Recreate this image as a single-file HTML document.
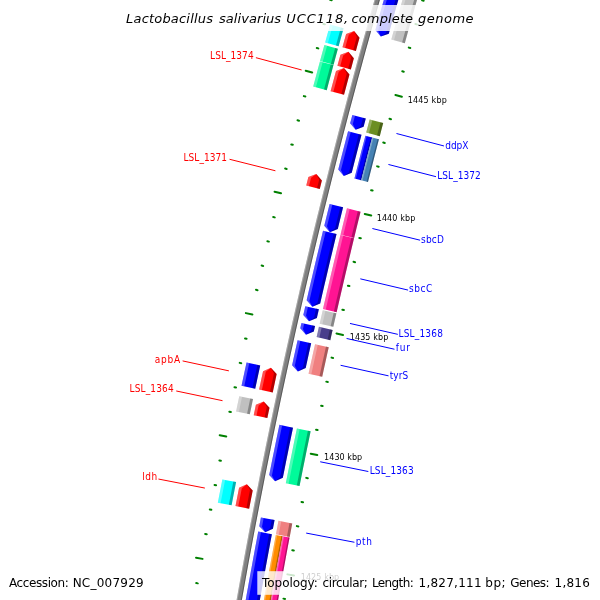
<!DOCTYPE html>
<html><head><meta charset="utf-8"><title>Lactobacillus salivarius UCC118, complete genome</title>
<style>
html,body{margin:0;padding:0;background:#fff;}
svg{display:block;font-family:"DejaVu Sans","Liberation Sans",sans-serif;}
.ti{font-size:13px;font-style:italic;}
.lg{font-size:12px;}
.tk{font-size:8px;}
.lb{font-family:"DejaVu Sans Condensed","DejaVu Sans","Liberation Sans",sans-serif;font-size:10px;}</style></head><body>
<svg width="600" height="600" viewBox="0 0 600 600">
<rect width="600" height="600" fill="#fff"/>
<polygon points="234.88,640.25 236.52,630.63 238.18,621.01 239.85,611.4 241.54,601.78 243.25,592.18 244.97,582.57 246.7,572.97 248.45,563.37 250.22,553.77 252,544.17 253.8,534.58 255.61,524.99 257.44,515.41 259.29,505.83 261.15,496.25 263.02,486.67 264.91,477.1 266.82,467.53 268.74,457.96 270.68,448.39 272.63,438.83 274.6,429.27 276.58,419.72 278.58,410.17 280.6,400.62 282.63,391.07 284.67,381.53 286.73,371.99 288.81,362.46 290.9,352.93 293.01,343.4 295.13,333.87 297.27,324.35 299.42,314.83 301.59,305.32 303.77,295.81 305.97,286.3 308.19,276.8 310.42,267.3 312.66,257.8 314.92,248.31 317.2,238.82 319.49,229.33 321.8,219.85 324.12,210.37 326.46,200.9 328.81,191.42 331.18,181.96 333.56,172.49 335.96,163.04 338.37,153.58 340.8,144.13 343.25,134.68 345.71,125.24 348.18,115.8 350.67,106.36 353.18,96.93 355.7,87.5 358.23,78.08 360.79,68.66 363.35,59.25 365.93,49.84 368.53,40.43 371.14,31.03 373.77,21.63 376.41,12.23 379.07,2.84 381.74,-6.54 384.43,-15.92 387.13,-25.3 389.85,-34.67 384.86,-36.12 382.14,-26.74 379.43,-17.36 376.74,-7.97 374.07,1.42 371.41,10.82 368.76,20.22 366.13,29.63 363.52,39.04 360.92,48.46 358.34,57.87 355.77,67.3 353.21,76.73 350.68,86.16 348.15,95.59 345.65,105.03 343.15,114.48 340.68,123.92 338.21,133.37 335.77,142.83 333.34,152.29 330.92,161.75 328.52,171.22 326.13,180.69 323.76,190.17 321.41,199.65 319.07,209.13 316.75,218.62 314.44,228.11 312.14,237.6 309.87,247.1 307.6,256.6 305.35,266.1 303.12,275.61 300.91,285.12 298.71,294.64 296.52,304.16 294.35,313.68 292.19,323.21 290.05,332.74 287.93,342.27 285.82,351.81 283.73,361.35 281.65,370.89 279.59,380.44 277.54,389.99 275.51,399.54 273.49,409.1 271.49,418.66 269.51,428.22 267.54,437.79 265.58,447.36 263.64,456.93 261.72,466.51 259.81,476.08 257.92,485.67 256.04,495.25 254.18,504.84 252.34,514.43 250.5,524.02 248.69,533.62 246.89,543.22 245.11,552.82 243.34,562.43 241.59,572.04 239.85,581.65 238.13,591.26 236.42,600.88 234.73,610.5 233.05,620.12 231.39,629.75 229.75,639.37" fill="#808080"/>
<polygon points="230.78,639.55 232.42,629.92 234.08,620.3 235.75,610.68 237.44,601.06 239.15,591.45 240.87,581.83 242.61,572.22 244.36,562.62 246.13,553.01 247.91,543.41 249.71,533.81 251.53,524.22 253.36,514.63 255.2,505.04 257.06,495.45 258.94,485.87 260.83,476.29 262.74,466.71 264.66,457.14 266.6,447.56 268.56,438 270.52,428.43 272.51,418.87 274.51,409.31 276.53,399.76 278.56,390.21 280.6,380.66 282.67,371.11 284.74,361.57 286.84,352.03 288.95,342.5 291.07,332.96 293.21,323.44 295.36,313.91 297.53,304.39 299.72,294.87 301.92,285.36 304.14,275.85 306.37,266.34 308.61,256.84 310.88,247.34 313.15,237.84 315.45,228.35 317.76,218.86 320.08,209.38 322.42,199.9 324.77,190.42 327.14,180.95 329.53,171.48 331.93,162.01 334.34,152.55 336.77,143.09 339.22,133.64 341.68,124.19 344.16,114.74 346.65,105.3 349.16,95.86 351.68,86.43 354.22,77 356.77,67.57 359.34,58.15 361.92,48.73 364.52,39.32 367.14,29.91 369.76,20.5 372.41,11.1 375.07,1.71 377.74,-7.68 380.43,-17.07 383.14,-26.45 385.86,-35.83 384.86,-36.12 382.14,-26.74 379.43,-17.36 376.74,-7.97 374.07,1.42 371.41,10.82 368.76,20.22 366.13,29.63 363.52,39.04 360.92,48.46 358.34,57.87 355.77,67.3 353.21,76.73 350.68,86.16 348.15,95.59 345.65,105.03 343.15,114.48 340.68,123.92 338.21,133.37 335.77,142.83 333.34,152.29 330.92,161.75 328.52,171.22 326.13,180.69 323.76,190.17 321.41,199.65 319.07,209.13 316.75,218.62 314.44,228.11 312.14,237.6 309.87,247.1 307.6,256.6 305.35,266.1 303.12,275.61 300.91,285.12 298.71,294.64 296.52,304.16 294.35,313.68 292.19,323.21 290.05,332.74 287.93,342.27 285.82,351.81 283.73,361.35 281.65,370.89 279.59,380.44 277.54,389.99 275.51,399.54 273.49,409.1 271.49,418.66 269.51,428.22 267.54,437.79 265.58,447.36 263.64,456.93 261.72,466.51 259.81,476.08 257.92,485.67 256.04,495.25 254.18,504.84 252.34,514.43 250.5,524.02 248.69,533.62 246.89,543.22 245.11,552.82 243.34,562.43 241.59,572.04 239.85,581.65 238.13,591.26 236.42,600.88 234.73,610.5 233.05,620.12 231.39,629.75 229.75,639.37" fill="rgba(255,255,255,0.3)"/>
<polygon points="234.88,640.25 236.52,630.63 238.18,621.01 239.85,611.4 241.54,601.78 243.25,592.18 244.97,582.57 246.7,572.97 248.45,563.37 250.22,553.77 252,544.17 253.8,534.58 255.61,524.99 257.44,515.41 259.29,505.83 261.15,496.25 263.02,486.67 264.91,477.1 266.82,467.53 268.74,457.96 270.68,448.39 272.63,438.83 274.6,429.27 276.58,419.72 278.58,410.17 280.6,400.62 282.63,391.07 284.67,381.53 286.73,371.99 288.81,362.46 290.9,352.93 293.01,343.4 295.13,333.87 297.27,324.35 299.42,314.83 301.59,305.32 303.77,295.81 305.97,286.3 308.19,276.8 310.42,267.3 312.66,257.8 314.92,248.31 317.2,238.82 319.49,229.33 321.8,219.85 324.12,210.37 326.46,200.9 328.81,191.42 331.18,181.96 333.56,172.49 335.96,163.04 338.37,153.58 340.8,144.13 343.25,134.68 345.71,125.24 348.18,115.8 350.67,106.36 353.18,96.93 355.7,87.5 358.23,78.08 360.79,68.66 363.35,59.25 365.93,49.84 368.53,40.43 371.14,31.03 373.77,21.63 376.41,12.23 379.07,2.84 381.74,-6.54 384.43,-15.92 387.13,-25.3 389.85,-34.67 388.85,-34.96 386.14,-25.59 383.43,-16.21 380.74,-6.83 378.07,2.56 375.41,11.95 372.77,21.35 370.14,30.75 367.53,40.15 364.93,49.56 362.35,58.97 359.78,68.39 357.23,77.81 354.69,87.23 352.17,96.66 349.67,106.1 347.18,115.53 344.7,124.97 342.24,134.42 339.8,143.87 337.37,153.32 334.95,162.78 332.55,172.24 330.17,181.7 327.8,191.17 325.45,200.65 323.11,210.12 320.79,219.6 318.48,229.09 316.19,238.57 313.91,248.06 311.65,257.56 309.4,267.06 307.17,276.56 304.96,286.06 302.76,295.57 300.57,305.09 298.41,314.6 296.25,324.12 294.11,333.65 291.99,343.17 289.88,352.7 287.79,362.24 285.72,371.77 283.65,381.31 281.61,390.86 279.58,400.4 277.56,409.95 275.56,419.51 273.58,429.06 271.61,438.62 269.66,448.19 267.72,457.75 265.8,467.32 263.89,476.89 262,486.47 260.13,496.05 258.27,505.63 256.42,515.21 254.59,524.8 252.78,534.39 250.98,543.98 249.2,553.58 247.43,563.18 245.68,572.78 243.94,582.39 242.22,591.99 240.52,601.6 238.83,611.22 237.15,620.83 235.49,630.45 233.85,640.07" fill="rgba(0,0,0,0.3)"/>
<polygon points="271.89,534.15 270.23,543.02 268.57,551.88 266.93,560.76 265.3,569.63 263.69,578.51 262.08,587.38 260.5,596.27 258.92,605.15 257.36,614.03 249.66,617.7 243.67,611.64 245.23,602.73 246.81,593.83 248.4,584.93 250.01,576.03 251.63,567.13 253.26,558.24 254.9,549.35 256.56,540.46 258.24,531.57" fill="#0000ff"/>
<polygon points="260.97,532.09 259.3,540.97 257.64,549.85 255.99,558.74 254.36,567.63 252.74,576.52 251.14,585.42 249.55,594.32 247.97,603.22 246.41,612.12 249.66,617.7 243.67,611.64 245.23,602.73 246.81,593.83 248.4,584.93 250.01,576.03 251.63,567.13 253.26,558.24 254.9,549.35 256.56,540.46 258.24,531.57" fill="rgba(255,255,255,0.3)"/>
<polygon points="271.89,534.15 270.23,543.02 268.57,551.88 266.93,560.76 265.3,569.63 263.69,578.51 262.08,587.38 260.5,596.27 258.92,605.15 257.36,614.03 249.66,617.7 254.62,613.56 256.18,604.67 257.76,595.78 259.35,586.89 260.95,578.01 262.57,569.13 264.2,560.25 265.84,551.38 267.49,542.5 269.16,533.63" fill="rgba(0,0,0,0.3)"/>
<polygon points="267.35,620.78 268.99,611.37 270.65,601.97 272.33,592.56 274.02,583.16 275.73,573.76 277.45,564.36 279.19,554.97 280.94,545.58 282.7,536.19 275.82,534.89 274.06,544.29 272.3,553.69 270.57,563.1 268.84,572.5 267.13,581.91 265.44,591.33 263.76,600.74 262.1,610.16 260.45,619.58" fill="#ff8c00"/>
<polygon points="261.83,619.82 263.48,610.4 265.14,600.99 266.82,591.57 268.51,582.16 270.22,572.76 271.94,563.35 273.68,553.95 275.43,544.55 277.2,535.15 275.82,534.89 274.06,544.29 272.3,553.69 270.57,563.1 268.84,572.5 267.13,581.91 265.44,591.33 263.76,600.74 262.1,610.16 260.45,619.58" fill="rgba(255,255,255,0.3)"/>
<polygon points="267.35,620.78 268.99,611.37 270.65,601.97 272.33,592.56 274.02,583.16 275.73,573.76 277.45,564.36 279.19,554.97 280.94,545.58 282.7,536.19 281.33,535.93 279.56,545.32 277.81,554.71 276.07,564.11 274.35,573.51 272.64,582.91 270.95,592.31 269.28,601.72 267.61,611.13 265.97,620.54" fill="rgba(0,0,0,0.3)"/>
<polygon points="274.24,621.98 275.89,612.58 277.55,603.19 279.22,593.8 280.91,584.4 282.61,575.02 284.33,565.63 286.07,556.25 287.82,546.87 289.58,537.49 282.7,536.19 280.94,545.58 279.19,554.97 277.45,564.36 275.73,573.76 274.02,583.16 272.33,592.56 270.65,601.97 268.99,611.37 267.35,620.78" fill="#ff1493"/>
<polygon points="268.73,621.02 270.37,611.62 272.03,602.21 273.71,592.81 275.4,583.41 277.11,574.01 278.83,564.62 280.56,555.23 282.31,545.84 284.08,536.45 282.7,536.19 280.94,545.58 279.19,554.97 277.45,564.36 275.73,573.76 274.02,583.16 272.33,592.56 270.65,601.97 268.99,611.37 267.35,620.78" fill="rgba(255,255,255,0.3)"/>
<polygon points="274.24,621.98 275.89,612.58 277.55,603.19 279.22,593.8 280.91,584.4 282.61,575.02 284.33,565.63 286.07,556.25 287.82,546.87 289.58,537.49 288.21,537.23 286.44,546.61 284.69,555.99 282.96,565.38 281.24,574.76 279.53,584.16 277.84,593.55 276.17,602.94 274.51,612.34 272.86,621.74" fill="rgba(0,0,0,0.3)"/>
<polygon points="274.57,520.07 272.92,528.72 265.17,532.28 259.27,526.13 260.92,517.45" fill="#0000ff"/>
<polygon points="263.65,517.98 262,526.64 265.17,532.28 259.27,526.13 260.92,517.45" fill="rgba(255,255,255,0.3)"/>
<polygon points="274.57,520.07 272.92,528.72 265.17,532.28 270.19,528.2 271.84,519.54" fill="rgba(0,0,0,0.3)"/>
<polygon points="289.69,536.91 290.97,530.18 292.25,523.45 278.5,520.82 277.21,527.56 275.93,534.31" fill="#f08080"/>
<polygon points="278.69,534.83 279.96,528.09 281.25,521.35 278.5,520.82 277.21,527.56 275.93,534.31" fill="rgba(255,255,255,0.3)"/>
<polygon points="289.69,536.91 290.97,530.18 292.25,523.45 289.5,522.92 288.22,529.66 286.94,536.39" fill="rgba(0,0,0,0.3)"/>
<polygon points="293.01,427.66 291.28,436 289.57,444.35 287.87,452.69 286.18,461.04 284.5,469.39 282.83,477.74 275.05,481.23 269.2,475.03 270.87,466.66 272.55,458.29 274.24,449.92 275.95,441.56 277.67,433.2 279.4,424.84" fill="#0000ff"/>
<polygon points="282.12,425.4 280.39,433.76 278.67,442.12 276.97,450.48 275.28,458.84 273.59,467.2 271.92,475.57 275.05,481.23 269.2,475.03 270.87,466.66 272.55,458.29 274.24,449.92 275.95,441.56 277.67,433.2 279.4,424.84" fill="rgba(255,255,255,0.3)"/>
<polygon points="293.01,427.66 291.28,436 289.57,444.35 287.87,452.69 286.18,461.04 284.5,469.39 282.83,477.74 275.05,481.23 280.1,477.2 281.77,468.84 283.45,460.49 285.14,452.14 286.84,443.79 288.56,435.44 290.29,427.1" fill="rgba(0,0,0,0.3)"/>
<polygon points="299.53,486.07 301.34,476.94 303.17,467.81 305.02,458.69 306.87,449.56 308.75,440.44 310.63,431.33 296.92,428.48 295.03,437.62 293.16,446.76 291.3,455.9 289.45,465.05 287.61,474.2 285.79,483.35" fill="#00fa9a"/>
<polygon points="288.54,483.9 290.36,474.75 292.19,465.6 294.04,456.46 295.9,447.32 297.78,438.18 299.67,429.05 296.92,428.48 295.03,437.62 293.16,446.76 291.3,455.9 289.45,465.05 287.61,474.2 285.79,483.35" fill="rgba(255,255,255,0.3)"/>
<polygon points="299.53,486.07 301.34,476.94 303.17,467.81 305.02,458.69 306.87,449.56 308.75,440.44 310.63,431.33 307.89,430.76 306,439.88 304.13,449 302.27,458.13 300.43,467.26 298.6,476.39 296.78,485.53" fill="rgba(0,0,0,0.3)"/>
<polygon points="311.17,343.27 309.33,351.55 307.5,359.83 305.69,368.11 297.85,371.45 292.11,365.15 293.93,356.84 295.76,348.54 297.6,340.25" fill="#0000ff"/>
<polygon points="300.31,340.85 298.47,349.14 296.64,357.44 294.83,365.74 297.85,371.45 292.11,365.15 293.93,356.84 295.76,348.54 297.6,340.25" fill="rgba(255,255,255,0.3)"/>
<polygon points="311.17,343.27 309.33,351.55 307.5,359.83 305.69,368.11 297.85,371.45 302.97,367.52 304.79,359.23 306.62,350.95 308.45,342.66" fill="rgba(0,0,0,0.3)"/>
<polygon points="322.23,376.75 323.84,369.36 325.46,361.96 327.1,354.57 328.74,347.18 315.07,344.14 313.43,351.55 311.79,358.95 310.17,366.37 308.55,373.78" fill="#f08080"/>
<polygon points="311.29,374.37 312.9,366.96 314.53,359.56 316.16,352.15 317.8,344.75 315.07,344.14 313.43,351.55 311.79,358.95 310.17,366.37 308.55,373.78" fill="rgba(255,255,255,0.3)"/>
<polygon points="322.23,376.75 323.84,369.36 325.46,361.96 327.1,354.57 328.74,347.18 326,346.57 324.36,353.97 322.73,361.36 321.11,368.76 319.49,376.16" fill="rgba(0,0,0,0.3)"/>
<polygon points="315.04,325.98 313.82,331.42 305.96,334.72 300.26,328.37 301.48,322.92" fill="#0000ff"/>
<polygon points="304.2,323.53 302.97,328.98 305.96,334.72 300.26,328.37 301.48,322.92" fill="rgba(255,255,255,0.3)"/>
<polygon points="315.04,325.98 313.82,331.42 305.96,334.72 311.11,330.81 312.33,325.37" fill="rgba(0,0,0,0.3)"/>
<polygon points="330.3,340.17 331.45,335.06 332.6,329.95 318.95,326.86 317.79,331.99 316.64,337.11" fill="#483d8b"/>
<polygon points="319.37,337.72 320.52,332.6 321.68,327.48 318.95,326.86 317.79,331.99 316.64,337.11" fill="rgba(255,255,255,0.3)"/>
<polygon points="330.3,340.17 331.45,335.06 332.6,329.95 329.87,329.33 328.72,334.44 327.57,339.56" fill="rgba(0,0,0,0.3)"/>
<polygon points="318.85,309.24 316.85,317.99 308.98,321.27 303.3,314.91 305.3,306.14" fill="#0000ff"/>
<polygon points="308.01,306.76 306.01,315.53 308.98,321.27 303.3,314.91 305.3,306.14" fill="rgba(255,255,255,0.3)"/>
<polygon points="318.85,309.24 316.85,317.99 308.98,321.27 314.14,317.38 316.14,308.62" fill="rgba(0,0,0,0.3)"/>
<polygon points="333.32,326.78 334.85,320.01 336.4,313.25 322.75,310.13 321.2,316.91 319.66,323.69" fill="#c0c0c0"/>
<polygon points="322.39,324.31 323.93,317.53 325.48,310.75 322.75,310.13 321.2,316.91 319.66,323.69" fill="rgba(255,255,255,0.3)"/>
<polygon points="333.32,326.78 334.85,320.01 336.4,313.25 333.67,312.63 332.12,319.39 330.59,326.16" fill="rgba(0,0,0,0.3)"/>
<polygon points="336.54,234.12 334.45,242.77 332.38,251.42 330.31,260.08 328.26,268.74 326.22,277.41 324.2,286.07 322.18,294.74 320.18,303.42 312.31,306.68 306.64,300.3 308.64,291.61 310.66,282.92 312.69,274.23 314.73,265.55 316.79,256.87 318.86,248.19 320.94,239.52 323.03,230.84" fill="#0000ff"/>
<polygon points="325.74,231.5 323.64,240.17 321.56,248.84 319.49,257.51 317.44,266.19 315.4,274.87 313.37,283.55 311.35,292.24 309.35,300.93 312.31,306.68 306.64,300.3 308.64,291.61 310.66,282.92 312.69,274.23 314.73,265.55 316.79,256.87 318.86,248.19 320.94,239.52 323.03,230.84" fill="rgba(255,255,255,0.3)"/>
<polygon points="336.54,234.12 334.45,242.77 332.38,251.42 330.31,260.08 328.26,268.74 326.22,277.41 324.2,286.07 322.18,294.74 320.18,303.42 312.31,306.68 317.47,302.8 319.48,294.12 321.49,285.44 323.52,276.77 325.55,268.11 327.61,259.44 329.67,250.78 331.75,242.12 333.84,233.46" fill="rgba(0,0,0,0.3)"/>
<polygon points="336.63,312.24 338.75,303 340.89,293.75 343.05,284.51 345.21,275.27 347.4,266.04 349.6,256.81 351.81,247.58 354.04,238.36 340.43,235.06 338.2,244.31 335.98,253.55 333.78,262.81 331.59,272.06 329.41,281.32 327.25,290.58 325.11,299.85 322.98,309.12" fill="#ff1493"/>
<polygon points="325.71,309.75 327.84,300.48 329.98,291.22 332.14,281.96 334.31,272.7 336.5,263.45 338.7,254.21 340.92,244.96 343.15,235.72 340.43,235.06 338.2,244.31 335.98,253.55 333.78,262.81 331.59,272.06 329.41,281.32 327.25,290.58 325.11,299.85 322.98,309.12" fill="rgba(255,255,255,0.3)"/>
<polygon points="336.63,312.24 338.75,303 340.89,293.75 343.05,284.51 345.21,275.27 347.4,266.04 349.6,256.81 351.81,247.58 354.04,238.36 351.31,237.7 349.09,246.93 346.87,256.16 344.67,265.39 342.49,274.63 340.32,283.87 338.16,293.12 336.02,302.37 333.9,311.62" fill="rgba(0,0,0,0.3)"/>
<polygon points="343.09,207.35 341.32,214.56 339.55,221.77 337.79,228.99 329.87,232.15 324.28,225.7 326.05,218.47 327.82,211.24 329.6,204.01" fill="#0000ff"/>
<polygon points="332.3,204.68 330.52,211.9 328.75,219.13 326.98,226.36 329.87,232.15 324.28,225.7 326.05,218.47 327.82,211.24 329.6,204.01" fill="rgba(255,255,255,0.3)"/>
<polygon points="343.09,207.35 341.32,214.56 339.55,221.77 337.79,228.99 329.87,232.15 335.09,228.33 336.85,221.11 338.62,213.9 340.39,206.68" fill="rgba(0,0,0,0.3)"/>
<polygon points="354.12,238.02 356.25,229.23 358.4,220.45 360.57,211.67 346.98,208.31 344.81,217.11 342.65,225.92 340.51,234.72" fill="#ff1493"/>
<polygon points="343.23,235.38 345.37,226.58 347.53,217.78 349.69,208.98 346.98,208.31 344.81,217.11 342.65,225.92 340.51,234.72" fill="rgba(255,255,255,0.3)"/>
<polygon points="354.12,238.02 356.25,229.23 358.4,220.45 360.57,211.67 357.85,211 355.69,219.78 353.53,228.57 351.4,237.36" fill="rgba(0,0,0,0.3)"/>
<polygon points="361.52,134.75 359.05,144.26 356.6,153.77 354.16,163.29 351.74,172.81 343.79,175.89 338.26,169.4 340.69,159.85 343.13,150.31 345.59,140.77 348.07,131.24" fill="#0000ff"/>
<polygon points="350.76,131.94 348.28,141.47 345.83,151 343.39,160.54 340.96,170.08 343.79,175.89 338.26,169.4 340.69,159.85 343.13,150.31 345.59,140.77 348.07,131.24" fill="rgba(255,255,255,0.3)"/>
<polygon points="361.52,134.75 359.05,144.26 356.6,153.77 354.16,163.29 351.74,172.81 343.79,175.89 349.04,172.13 351.47,162.6 353.9,153.08 356.36,143.56 358.83,134.04" fill="rgba(0,0,0,0.3)"/>
<polygon points="361.19,180.29 363.36,171.73 365.54,163.17 367.74,154.62 369.94,146.07 372.16,137.52 365.39,135.75 363.17,144.31 360.96,152.87 358.76,161.44 356.58,170 354.41,178.58" fill="#0000ff"/>
<polygon points="355.76,178.92 357.93,170.35 360.12,161.78 362.31,153.22 364.52,144.66 366.74,136.11 365.39,135.75 363.17,144.31 360.96,152.87 358.76,161.44 356.58,170 354.41,178.58" fill="rgba(255,255,255,0.3)"/>
<polygon points="361.19,180.29 363.36,171.73 365.54,163.17 367.74,154.62 369.94,146.07 372.16,137.52 370.81,137.16 368.59,145.71 366.38,154.27 364.19,162.82 362.01,171.38 359.84,179.95" fill="rgba(0,0,0,0.3)"/>
<polygon points="367.98,182 370.15,173.45 372.33,164.91 374.52,156.36 376.72,147.82 378.94,139.28 372.16,137.52 369.94,146.07 367.74,154.62 365.54,163.17 363.36,171.73 361.19,180.29" fill="#4682b4"/>
<polygon points="362.55,180.63 364.72,172.07 366.9,163.52 369.09,154.97 371.3,146.42 373.52,137.87 372.16,137.52 369.94,146.07 367.74,154.62 365.54,163.17 363.36,171.73 361.19,180.29" fill="rgba(255,255,255,0.3)"/>
<polygon points="367.98,182 370.15,173.45 372.33,164.91 374.52,156.36 376.72,147.82 378.94,139.28 377.58,138.93 375.37,147.47 373.16,156.01 370.97,164.56 368.79,173.11 366.62,181.66" fill="rgba(0,0,0,0.3)"/>
<polygon points="365.79,118.44 363.59,126.82 355.62,129.84 350.14,123.3 352.35,114.9" fill="#0000ff"/>
<polygon points="355.04,115.61 352.83,124 355.62,129.84 350.14,123.3 352.35,114.9" fill="rgba(255,255,255,0.3)"/>
<polygon points="365.79,118.44 363.59,126.82 355.62,129.84 360.9,126.12 363.1,117.74" fill="rgba(0,0,0,0.3)"/>
<polygon points="379.76,136.14 381.47,129.58 383.19,123.03 369.66,119.46 367.93,126.03 366.21,132.6" fill="#6b8e23"/>
<polygon points="368.92,133.31 370.64,126.74 372.36,120.18 369.66,119.46 367.93,126.03 366.21,132.6" fill="rgba(255,255,255,0.3)"/>
<polygon points="379.76,136.14 381.47,129.58 383.19,123.03 380.49,122.32 378.76,128.87 377.05,135.43" fill="rgba(0,0,0,0.3)"/>
<polygon points="403.41,-17.88 400.95,-9.3 398.49,-0.73 396.05,7.86 393.62,16.44 391.2,25.03 388.79,33.63 380.77,36.52 375.4,29.89 377.82,21.28 380.24,12.67 382.67,4.06 385.12,-4.54 387.59,-13.14 390.06,-21.73" fill="#0000ff"/>
<polygon points="392.73,-20.96 390.26,-12.37 387.8,-3.78 385.35,4.82 382.91,13.42 380.49,22.03 378.08,30.64 380.77,36.52 375.4,29.89 377.82,21.28 380.24,12.67 382.67,4.06 385.12,-4.54 387.59,-13.14 390.06,-21.73" fill="rgba(255,255,255,0.3)"/>
<polygon points="403.41,-17.88 400.95,-9.3 398.49,-0.73 396.05,7.86 393.62,16.44 391.2,25.03 388.79,33.63 380.77,36.52 386.12,32.88 388.52,24.28 390.94,15.69 393.37,7.1 395.82,-1.49 398.27,-10.07 400.74,-18.65" fill="rgba(0,0,0,0.3)"/>
<polygon points="404.81,43.2 407.42,33.84 410.05,24.49 412.69,15.14 415.35,5.79 418.02,-3.55 420.71,-12.89 407.26,-16.77 404.56,-7.41 401.88,1.95 399.22,11.32 396.57,20.69 393.94,30.07 391.32,39.45" fill="#c0c0c0"/>
<polygon points="394.02,40.2 396.64,30.82 399.27,21.45 401.92,12.08 404.58,2.72 407.25,-6.64 409.95,-15.99 407.26,-16.77 404.56,-7.41 401.88,1.95 399.22,11.32 396.57,20.69 393.94,30.07 391.32,39.45" fill="rgba(255,255,255,0.3)"/>
<polygon points="404.81,43.2 407.42,33.84 410.05,24.49 412.69,15.14 415.35,5.79 418.02,-3.55 420.71,-12.89 418.02,-13.66 415.33,-4.32 412.66,5.03 410,14.38 407.35,23.73 404.73,33.09 402.11,42.45" fill="rgba(0,0,0,0.3)"/>
<polygon points="355.89,50.92 357.71,44.31 359.53,37.71 354.16,31.07 346.13,34 344.31,40.62 342.48,47.24" fill="#ff0000"/>
<polygon points="345.16,47.97 346.99,41.36 348.81,34.74 354.16,31.07 346.13,34 344.31,40.62 342.48,47.24" fill="rgba(255,255,255,0.3)"/>
<polygon points="355.89,50.92 357.71,44.31 359.53,37.71 354.16,31.07 356.85,36.96 355.03,43.57 353.21,50.18" fill="rgba(0,0,0,0.3)"/>
<polygon points="338.63,46.18 341.11,37.16 343.61,28.14 330.12,24.39 327.62,33.43 325.13,42.47" fill="#00ffff"/>
<polygon points="327.83,43.21 330.31,34.18 332.82,25.14 330.12,24.39 327.62,33.43 325.13,42.47" fill="rgba(255,255,255,0.3)"/>
<polygon points="338.63,46.18 341.11,37.16 343.61,28.14 340.91,27.39 338.41,36.41 335.93,45.44" fill="rgba(0,0,0,0.3)"/>
<polygon points="350.83,69.45 352.34,63.89 353.86,58.33 348.46,51.71 340.45,54.67 338.93,60.24 337.42,65.81" fill="#ff0000"/>
<polygon points="340.1,66.54 341.61,60.97 343.13,55.4 348.46,51.71 340.45,54.67 338.93,60.24 337.42,65.81" fill="rgba(255,255,255,0.3)"/>
<polygon points="350.83,69.45 352.34,63.89 353.86,58.33 348.46,51.71 351.18,57.6 349.66,63.16 348.15,68.72" fill="rgba(0,0,0,0.3)"/>
<polygon points="333.56,64.76 335.72,56.79 337.9,48.82 324.4,45.12 322.22,53.11 320.04,61.1" fill="#00fa9a"/>
<polygon points="322.75,61.83 324.92,53.84 327.1,45.86 324.4,45.12 322.22,53.11 320.04,61.1" fill="rgba(255,255,255,0.3)"/>
<polygon points="333.56,64.76 335.72,56.79 337.9,48.82 335.2,48.08 333.02,56.05 330.85,64.03" fill="rgba(0,0,0,0.3)"/>
<polygon points="344.03,94.75 345.83,88.02 347.63,81.29 349.45,74.57 344.03,67.97 336.03,70.94 334.21,77.68 332.4,84.42 330.6,91.17" fill="#ff0000"/>
<polygon points="333.29,91.88 335.09,85.14 336.9,78.4 338.71,71.67 344.03,67.97 336.03,70.94 334.21,77.68 332.4,84.42 330.6,91.17" fill="rgba(255,255,255,0.3)"/>
<polygon points="344.03,94.75 345.83,88.02 347.63,81.29 349.45,74.57 344.03,67.97 346.76,73.84 344.95,80.57 343.14,87.3 341.35,94.03" fill="rgba(0,0,0,0.3)"/>
<polygon points="326.74,90.14 328.97,81.79 331.21,73.44 333.46,65.1 319.95,61.44 317.69,69.8 315.44,78.16 313.21,86.53" fill="#00fa9a"/>
<polygon points="315.91,87.25 318.15,78.89 320.4,70.53 322.65,62.17 319.95,61.44 317.69,69.8 315.44,78.16 313.21,86.53" fill="rgba(255,255,255,0.3)"/>
<polygon points="326.74,90.14 328.97,81.79 331.21,73.44 333.46,65.1 330.76,64.37 328.51,72.71 326.26,81.06 324.03,89.42" fill="rgba(0,0,0,0.3)"/>
<polygon points="319.74,188.94 321.86,180.45 316.33,173.95 308.38,177.07 306.25,185.58" fill="#ff0000"/>
<polygon points="308.95,186.25 311.08,177.75 316.33,173.95 308.38,177.07 306.25,185.58" fill="rgba(255,255,255,0.3)"/>
<polygon points="319.74,188.94 321.86,180.45 316.33,173.95 319.17,179.78 317.04,188.27" fill="rgba(0,0,0,0.3)"/>
<polygon points="272.73,392.4 274.69,383.23 276.66,374.08 270.92,367.76 263.08,371.14 261.1,380.32 259.14,389.5" fill="#ff0000"/>
<polygon points="261.86,390.08 263.82,380.9 265.79,371.73 270.92,367.76 263.08,371.14 261.1,380.32 259.14,389.5" fill="rgba(255,255,255,0.3)"/>
<polygon points="272.73,392.4 274.69,383.23 276.66,374.08 270.92,367.76 273.95,373.49 271.97,382.65 270.01,391.82" fill="rgba(0,0,0,0.3)"/>
<polygon points="255.22,388.67 256.88,380.92 258.54,373.18 260.22,365.44 246.54,362.47 244.86,370.23 243.19,377.99 241.53,385.75" fill="#0000ff"/>
<polygon points="244.27,386.34 245.93,378.58 247.6,370.82 249.27,363.06 246.54,362.47 244.86,370.23 243.19,377.99 241.53,385.75" fill="rgba(255,255,255,0.3)"/>
<polygon points="255.22,388.67 256.88,380.92 258.54,373.18 260.22,365.44 257.48,364.84 255.81,372.59 254.14,380.34 252.49,388.09" fill="rgba(0,0,0,0.3)"/>
<polygon points="267.34,418.01 268.42,412.84 269.5,407.67 263.72,401.39 255.9,404.81 254.81,409.99 253.73,415.17" fill="#ff0000"/>
<polygon points="256.45,415.74 257.53,410.56 258.62,405.38 263.72,401.39 255.9,404.81 254.81,409.99 253.73,415.17" fill="rgba(255,255,255,0.3)"/>
<polygon points="267.34,418.01 268.42,412.84 269.5,407.67 263.72,401.39 266.78,407.1 265.7,412.27 264.62,417.44" fill="rgba(0,0,0,0.3)"/>
<polygon points="249.81,414.35 251.41,406.74 253.01,399.12 239.31,396.23 237.7,403.86 236.11,411.5" fill="#c0c0c0"/>
<polygon points="238.85,412.07 240.44,404.44 242.05,396.81 239.31,396.23 237.7,403.86 236.11,411.5" fill="rgba(255,255,255,0.3)"/>
<polygon points="249.81,414.35 251.41,406.74 253.01,399.12 250.27,398.55 248.67,406.16 247.07,413.78" fill="rgba(0,0,0,0.3)"/>
<polygon points="249.16,508.69 250.93,499.56 252.71,490.42 246.84,484.22 239.07,487.75 237.28,496.91 235.51,506.07" fill="#ff0000"/>
<polygon points="238.24,506.59 240.01,497.44 241.79,488.29 246.84,484.22 239.07,487.75 237.28,496.91 235.51,506.07" fill="rgba(255,255,255,0.3)"/>
<polygon points="249.16,508.69 250.93,499.56 252.71,490.42 246.84,484.22 249.98,489.89 248.2,499.03 246.43,508.17" fill="rgba(0,0,0,0.3)"/>
<polygon points="231.58,505.31 233.08,497.57 234.58,489.84 236.1,482.11 222.36,479.41 220.84,487.16 219.33,494.91 217.84,502.66" fill="#00ffff"/>
<polygon points="220.58,503.19 222.08,495.44 223.59,487.69 225.11,479.95 222.36,479.41 220.84,487.16 219.33,494.91 217.84,502.66" fill="rgba(255,255,255,0.3)"/>
<polygon points="231.58,505.31 233.08,497.57 234.58,489.84 236.1,482.11 233.35,481.57 231.83,489.3 230.33,497.04 228.83,504.78" fill="rgba(0,0,0,0.3)"/>
<line x1="189.23" y1="632.49" x2="187.65" y2="632.22" stroke="#008000" stroke-width="2" stroke-linecap="round"/>
<line x1="275" y1="647.06" x2="276.58" y2="647.33" stroke="#008000" stroke-width="2" stroke-linecap="round"/>
<line x1="193.46" y1="607.92" x2="191.88" y2="607.64" stroke="#008000" stroke-width="2" stroke-linecap="round"/>
<line x1="279.17" y1="622.84" x2="280.75" y2="623.12" stroke="#008000" stroke-width="2" stroke-linecap="round"/>
<line x1="197.79" y1="583.36" x2="196.21" y2="583.08" stroke="#008000" stroke-width="2" stroke-linecap="round"/>
<line x1="283.44" y1="598.64" x2="285.01" y2="598.92" stroke="#008000" stroke-width="2" stroke-linecap="round"/>
<line x1="202.61" y1="558.89" x2="196.02" y2="557.69" stroke="#008000" stroke-width="2" stroke-linecap="round"/>
<line x1="287.41" y1="574.38" x2="294" y2="575.58" stroke="#008000" stroke-width="2" stroke-linecap="round"/>
<line x1="206.75" y1="534.3" x2="205.17" y2="534.01" stroke="#008000" stroke-width="2" stroke-linecap="round"/>
<line x1="292.27" y1="550.28" x2="293.84" y2="550.57" stroke="#008000" stroke-width="2" stroke-linecap="round"/>
<line x1="211.38" y1="509.8" x2="209.8" y2="509.5" stroke="#008000" stroke-width="2" stroke-linecap="round"/>
<line x1="296.83" y1="526.13" x2="298.4" y2="526.43" stroke="#008000" stroke-width="2" stroke-linecap="round"/>
<line x1="216.11" y1="485.32" x2="214.54" y2="485.01" stroke="#008000" stroke-width="2" stroke-linecap="round"/>
<line x1="301.49" y1="502" x2="303.06" y2="502.3" stroke="#008000" stroke-width="2" stroke-linecap="round"/>
<line x1="220.94" y1="460.85" x2="219.37" y2="460.54" stroke="#008000" stroke-width="2" stroke-linecap="round"/>
<line x1="306.25" y1="477.88" x2="307.82" y2="478.2" stroke="#008000" stroke-width="2" stroke-linecap="round"/>
<line x1="226.26" y1="436.49" x2="219.69" y2="435.15" stroke="#008000" stroke-width="2" stroke-linecap="round"/>
<line x1="310.72" y1="453.71" x2="317.29" y2="455.05" stroke="#008000" stroke-width="2" stroke-linecap="round"/>
<line x1="230.9" y1="411.99" x2="229.33" y2="411.66" stroke="#008000" stroke-width="2" stroke-linecap="round"/>
<line x1="316.07" y1="429.72" x2="317.64" y2="430.04" stroke="#008000" stroke-width="2" stroke-linecap="round"/>
<line x1="236.03" y1="387.59" x2="234.46" y2="387.26" stroke="#008000" stroke-width="2" stroke-linecap="round"/>
<line x1="321.13" y1="405.67" x2="322.7" y2="406" stroke="#008000" stroke-width="2" stroke-linecap="round"/>
<line x1="241.26" y1="363.21" x2="239.7" y2="362.87" stroke="#008000" stroke-width="2" stroke-linecap="round"/>
<line x1="326.29" y1="381.64" x2="327.85" y2="381.97" stroke="#008000" stroke-width="2" stroke-linecap="round"/>
<line x1="246.59" y1="338.85" x2="245.03" y2="338.51" stroke="#008000" stroke-width="2" stroke-linecap="round"/>
<line x1="331.54" y1="357.63" x2="333.1" y2="357.97" stroke="#008000" stroke-width="2" stroke-linecap="round"/>
<line x1="252.41" y1="314.6" x2="245.88" y2="313.13" stroke="#008000" stroke-width="2" stroke-linecap="round"/>
<line x1="336.5" y1="333.55" x2="343.04" y2="335.02" stroke="#008000" stroke-width="2" stroke-linecap="round"/>
<line x1="257.55" y1="290.2" x2="255.99" y2="289.84" stroke="#008000" stroke-width="2" stroke-linecap="round"/>
<line x1="342.35" y1="309.67" x2="343.91" y2="310.03" stroke="#008000" stroke-width="2" stroke-linecap="round"/>
<line x1="263.18" y1="265.91" x2="261.63" y2="265.55" stroke="#008000" stroke-width="2" stroke-linecap="round"/>
<line x1="347.9" y1="285.73" x2="349.45" y2="286.09" stroke="#008000" stroke-width="2" stroke-linecap="round"/>
<line x1="268.91" y1="241.64" x2="267.36" y2="241.27" stroke="#008000" stroke-width="2" stroke-linecap="round"/>
<line x1="353.54" y1="261.81" x2="355.1" y2="262.18" stroke="#008000" stroke-width="2" stroke-linecap="round"/>
<line x1="274.74" y1="217.4" x2="273.19" y2="217.02" stroke="#008000" stroke-width="2" stroke-linecap="round"/>
<line x1="359.29" y1="237.91" x2="360.84" y2="238.29" stroke="#008000" stroke-width="2" stroke-linecap="round"/>
<line x1="281.06" y1="193.27" x2="274.55" y2="191.67" stroke="#008000" stroke-width="2" stroke-linecap="round"/>
<line x1="364.74" y1="213.94" x2="371.25" y2="215.55" stroke="#008000" stroke-width="2" stroke-linecap="round"/>
<line x1="286.7" y1="168.98" x2="285.15" y2="168.59" stroke="#008000" stroke-width="2" stroke-linecap="round"/>
<line x1="371.07" y1="190.19" x2="372.63" y2="190.58" stroke="#008000" stroke-width="2" stroke-linecap="round"/>
<line x1="292.82" y1="144.81" x2="291.27" y2="144.42" stroke="#008000" stroke-width="2" stroke-linecap="round"/>
<line x1="377.11" y1="166.36" x2="378.66" y2="166.76" stroke="#008000" stroke-width="2" stroke-linecap="round"/>
<line x1="299.05" y1="120.67" x2="297.5" y2="120.27" stroke="#008000" stroke-width="2" stroke-linecap="round"/>
<line x1="383.25" y1="142.56" x2="384.8" y2="142.97" stroke="#008000" stroke-width="2" stroke-linecap="round"/>
<line x1="305.38" y1="96.55" x2="303.83" y2="96.14" stroke="#008000" stroke-width="2" stroke-linecap="round"/>
<line x1="389.48" y1="118.79" x2="391.03" y2="119.2" stroke="#008000" stroke-width="2" stroke-linecap="round"/>
<line x1="312.19" y1="72.56" x2="305.71" y2="70.82" stroke="#008000" stroke-width="2" stroke-linecap="round"/>
<line x1="395.43" y1="94.94" x2="401.9" y2="96.68" stroke="#008000" stroke-width="2" stroke-linecap="round"/>
<line x1="318.32" y1="48.39" x2="316.78" y2="47.97" stroke="#008000" stroke-width="2" stroke-linecap="round"/>
<line x1="402.25" y1="71.32" x2="403.79" y2="71.74" stroke="#008000" stroke-width="2" stroke-linecap="round"/>
<line x1="324.94" y1="24.35" x2="323.4" y2="23.92" stroke="#008000" stroke-width="2" stroke-linecap="round"/>
<line x1="408.77" y1="47.62" x2="410.31" y2="48.05" stroke="#008000" stroke-width="2" stroke-linecap="round"/>
<line x1="331.66" y1="0.34" x2="330.12" y2="-0.1" stroke="#008000" stroke-width="2" stroke-linecap="round"/>
<line x1="415.4" y1="23.95" x2="416.93" y2="24.39" stroke="#008000" stroke-width="2" stroke-linecap="round"/>
<line x1="338.48" y1="-23.65" x2="336.94" y2="-24.09" stroke="#008000" stroke-width="2" stroke-linecap="round"/>
<line x1="422.12" y1="0.31" x2="423.65" y2="0.75" stroke="#008000" stroke-width="2" stroke-linecap="round"/>
<line x1="345.78" y1="-47.49" x2="339.35" y2="-49.36" stroke="#008000" stroke-width="2" stroke-linecap="round"/>
<line x1="428.55" y1="-23.41" x2="434.98" y2="-21.54" stroke="#008000" stroke-width="2" stroke-linecap="round"/>
<text class="tk" x="407.77" y="103" fill="#000" textLength="38.97" lengthAdjust="spacing">1445 kbp</text>
<text class="tk" x="376.69" y="221" fill="#000" textLength="38.57" lengthAdjust="spacing">1440 kbp</text>
<text class="tk" x="349.71" y="340" fill="#000" textLength="38.55" lengthAdjust="spacing">1435 kbp</text>
<text class="tk" x="324.12" y="460" fill="#000" textLength="37.96" lengthAdjust="spacing">1430 kbp</text>
<text class="tk" x="300.69" y="580" fill="#000" textLength="38.46" lengthAdjust="spacing">1425 kbp</text>
<line x1="301.6" y1="69.96" x2="255.92" y2="57.68" stroke="#ff0000" stroke-width="1"/>
<text class="lb" x="210.07" y="59" fill="#ff0000" textLength="43.55" lengthAdjust="spacing">LSL_1374</text>
<line x1="275.42" y1="170.77" x2="229.54" y2="159.28" stroke="#ff0000" stroke-width="1"/>
<text class="lb" x="183.48" y="161" fill="#ff0000" textLength="43.55" lengthAdjust="spacing">LSL_1371</text>
<line x1="228.87" y1="370.85" x2="182.63" y2="360.91" stroke="#ff0000" stroke-width="1"/>
<text class="lb" x="154.81" y="363" fill="#ff0000" textLength="25.47" lengthAdjust="spacing">apbA</text>
<line x1="222.53" y1="400.68" x2="176.24" y2="390.97" stroke="#ff0000" stroke-width="1"/>
<text class="lb" x="129.48" y="392" fill="#ff0000" textLength="44.14" lengthAdjust="spacing">LSL_1364</text>
<line x1="204.87" y1="488.07" x2="158.44" y2="479.04" stroke="#ff0000" stroke-width="1"/>
<text class="lb" x="142.31" y="480" fill="#ff0000" textLength="14.88" lengthAdjust="spacing">ldh</text>
<line x1="396.47" y1="133.51" x2="443.96" y2="145.97" stroke="#0000ff" stroke-width="1"/>
<text class="lb" x="445.18" y="149" fill="#0000ff" textLength="23.32" lengthAdjust="spacing">ddpX</text>
<line x1="388.43" y1="164.48" x2="435.99" y2="176.68" stroke="#0000ff" stroke-width="1"/>
<text class="lb" x="437.26" y="179" fill="#0000ff" textLength="43.52" lengthAdjust="spacing">LSL_1372</text>
<line x1="372.38" y1="228.53" x2="420.08" y2="240.2" stroke="#0000ff" stroke-width="1"/>
<text class="lb" x="421" y="243" fill="#0000ff" textLength="22.86" lengthAdjust="spacing">sbcD</text>
<line x1="360.3" y1="278.83" x2="408.09" y2="290.09" stroke="#0000ff" stroke-width="1"/>
<text class="lb" x="409" y="292" fill="#0000ff" textLength="23.2" lengthAdjust="spacing">sbcC</text>
<line x1="349.97" y1="323.45" x2="397.84" y2="334.35" stroke="#0000ff" stroke-width="1"/>
<text class="lb" x="398.48" y="337" fill="#0000ff" textLength="44.42" lengthAdjust="spacing">LSL_1368</text>
<line x1="346.57" y1="338.46" x2="394.48" y2="349.23" stroke="#0000ff" stroke-width="1"/>
<text class="lb" x="395.79" y="351" fill="#0000ff" textLength="14.2" lengthAdjust="spacing">fur</text>
<line x1="340.6" y1="365.29" x2="388.56" y2="375.85" stroke="#0000ff" stroke-width="1"/>
<text class="lb" x="389.74" y="379" fill="#0000ff" textLength="18.45" lengthAdjust="spacing">tyrS</text>
<line x1="320.21" y1="461.77" x2="368.33" y2="471.53" stroke="#0000ff" stroke-width="1"/>
<text class="lb" x="369.74" y="474" fill="#0000ff" textLength="43.88" lengthAdjust="spacing">LSL_1363</text>
<line x1="306.19" y1="533.08" x2="354.43" y2="542.25" stroke="#0000ff" stroke-width="1"/>
<text class="lb" x="355.75" y="545" fill="#0000ff" textLength="16.19" lengthAdjust="spacing">pth</text>
<rect x="122" y="5" width="356" height="26" fill="rgba(255,255,255,0.8)"/>
<text class="ti" y="23" fill="#000"><tspan x="126.08" textLength="86.86" lengthAdjust="spacing">Lactobacillus</tspan> <tspan x="218.95" textLength="62.2" lengthAdjust="spacing">salivarius</tspan> <tspan x="286.29" textLength="61.96" lengthAdjust="spacing">UCC118,</tspan> <tspan x="351.5" textLength="61.62" lengthAdjust="spacing">complete</tspan> <tspan x="418.1" textLength="55.4" lengthAdjust="spacing">genome</tspan></text>
<text class="lg" y="587" fill="#000"><tspan x="8.94" textLength="59.83" lengthAdjust="spacing">Accession:</tspan> <tspan x="72.66" textLength="70.99" lengthAdjust="spacing">NC_007929</tspan></text>
<rect x="257.3" y="571.2" width="337" height="23.6" fill="rgba(255,255,255,0.8)"/>
<text class="lg" y="587" fill="#000"><tspan x="262.11" textLength="55.64" lengthAdjust="spacing">Topology:</tspan> <tspan x="322.5" textLength="45.24" lengthAdjust="spacing">circular;</tspan> <tspan x="371.92" textLength="41.83" lengthAdjust="spacing">Length:</tspan> <tspan x="418.5" textLength="63.06" lengthAdjust="spacing">1,827,111</tspan> <tspan x="485.35" textLength="20.15" lengthAdjust="spacing">bp;</tspan> <tspan x="510.35" textLength="39.15" lengthAdjust="spacing">Genes:</tspan> <tspan x="554.5" textLength="35.33" lengthAdjust="spacing">1,816</tspan></text>
</svg>
</body></html>
